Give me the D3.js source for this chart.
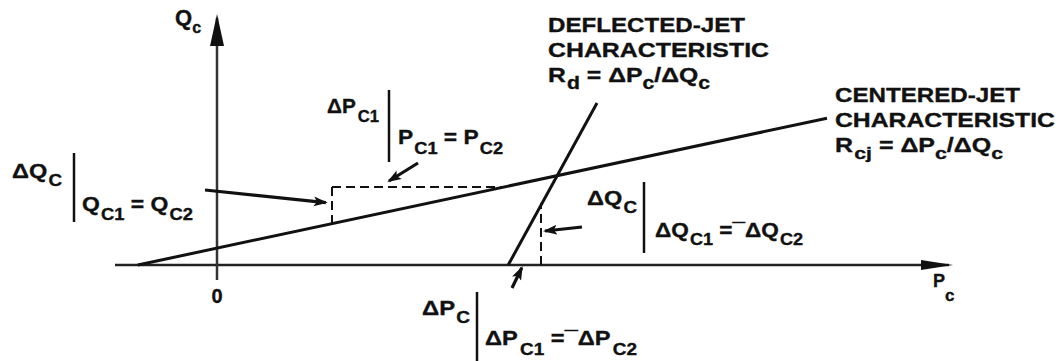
<!DOCTYPE html>
<html>
<head>
<meta charset="utf-8">
<script src="https://cdn.jsdelivr.net/npm/d3@7"></script>
<style>
  body { margin: 0; background: #fff; }
  svg text { font-family: "Liberation Sans", Arial, sans-serif; font-weight: bold; fill: #111; stroke: #111; stroke-width: 0.35px; }
</style>
</head>
<body>
<div id="chart"></div>
<script>
// axis extents (P_c horizontal, Q_c vertical, arbitrary units)
var pAxis = [-2.55, 18.3];
var qAxis = [-0.375, 6.175];

// characteristics [P, Q]
var centeredJet = [[-1.98, 0], [15.25, 3.67]];
var deflectedJet = [[7.28, 0], [9.5, 4.05]];

// dashed construction lines
var dashedLines = [
  [[2.875, 1.95], [7.15, 1.95]],
  [[2.875, 1.95], [2.875, 1.04]],
  [[8.1, 0], [8.1, 1.55]]
];

// pointer arrows (from, to)
var pointers = [
  [[-0.3, 1.875], [2.72, 1.56]],
  [[5.025, 2.55], [4.3, 2.1]],
  [[9.125, 0.95], [8.2, 0.85]],
  [[7.375, -0.575], [7.62, -0.07]]
];

var width = 1062, height = 361;

var x = d3.scaleLinear().domain([0, 10]).range([217, 617]);
var y = d3.scaleLinear().domain([0, 5]).range([265, 65]);

var svg = d3.select("#chart").append("svg")
    .attr("width", width)
    .attr("height", height);

var defs = svg.append("defs");
defs.append("marker")
    .attr("id", "ptr")
    .attr("markerUnits", "userSpaceOnUse")
    .attr("markerWidth", 16).attr("markerHeight", 12)
    .attr("refX", 12).attr("refY", 5)
    .attr("orient", "auto")
  .append("path")
    .attr("d", "M0,0 L14,5 L0,10 L3,5 Z")
    .attr("fill", "#111");
defs.append("marker")
    .attr("id", "axisX")
    .attr("markerUnits", "userSpaceOnUse")
    .attr("markerWidth", 34).attr("markerHeight", 14)
    .attr("refX", 28).attr("refY", 6)
    .attr("orient", "auto")
  .append("path")
    .attr("d", "M0,1 L32,6 L0,11 Z")
    .attr("fill", "#111");
defs.append("marker")
    .attr("id", "axisY")
    .attr("markerUnits", "userSpaceOnUse")
    .attr("markerWidth", 34).attr("markerHeight", 16)
    .attr("refX", 28).attr("refY", 7)
    .attr("orient", "auto")
  .append("path")
    .attr("d", "M0,0 L32,7 L0,14 Z")
    .attr("fill", "#111");

var line = d3.line()
    .x(function(d) { return x(d[0]); })
    .y(function(d) { return y(d[1]); });

// axes
svg.append("path")
    .attr("d", line([[pAxis[0], 0], [pAxis[1], 0]]))
    .attr("stroke", "#222").attr("stroke-width", 2.5)
    .attr("marker-end", "url(#axisX)");
svg.append("path")
    .attr("d", line([[0, qAxis[0]], [0, qAxis[1]]]))
    .attr("stroke", "#333").attr("stroke-width", 2.5)
    .attr("marker-end", "url(#axisY)");

// characteristics
[centeredJet, deflectedJet].forEach(function(d) {
  svg.append("path")
      .attr("d", line(d))
      .attr("fill", "none")
      .attr("stroke", "#111")
      .attr("stroke-width", 3);
});

svg.selectAll(".dash")
    .data(dashedLines)
  .enter().append("path")
    .attr("class", "dash")
    .attr("d", line)
    .attr("stroke", "#111")
    .attr("stroke-width", 2)
    .attr("stroke-dasharray", "9,5");

svg.selectAll(".ptr")
    .data(pointers)
  .enter().append("path")
    .attr("class", "ptr")
    .attr("d", line)
    .attr("stroke", "#111")
    .attr("stroke-width", 3.2)
    .attr("marker-end", "url(#ptr)");

// labels: parts are [text, "sub"|null, dx]
function label(px, py, size, parts, opts) {
  opts = opts || {};
  var t = svg.append("text")
      .attr("x", px).attr("y", py)
      .attr("font-size", size);
  if (opts.anchor) t.attr("text-anchor", opts.anchor);
  if (opts.len) t.attr("textLength", opts.len).attr("lengthAdjust", "spacingAndGlyphs");
  var off = 0;
  parts.forEach(function(p) {
    var target = p[1] === "sub" ? (opts.sub || 8) : 0;
    var s = t.append("tspan").attr("dy", target - off).text(p[0]);
    if (p[1] === "sub") s.attr("font-size", opts.subSize || size * 0.8);
    if (p[2]) s.attr("dx", p[2]);
    off = target;
  });
  return t;
}

label(175, 25, 22, [["Q"], ["c", "sub"]], {sub: 8, subSize: 16});
label(217, 303, 20, [["0"]], {anchor: "middle"});
label(933, 287, 18, [["P"], ["c", "sub"]], {sub: 14, subSize: 17});

// left annotation
label(12, 178, 20, [["ΔQ"], ["C", "sub", 1]], {sub: 8, subSize: 16, len: 50});
label(82, 211, 20, [["Q"], ["C1", "sub", 1], [" = ", null], ["Q"], ["C2", "sub", 1]], {sub: 9, subSize: 16, len: 111});

// top-middle annotation
label(327, 113, 20, [["ΔP"], ["C1", "sub", 2]], {sub: 9, subSize: 16, len: 52});
label(398, 144, 20, [["P"], ["C1", "sub", 1], [" = ", null], ["P"], ["C2", "sub", 1]], {sub: 10, subSize: 16, len: 105});

// right annotation
label(587, 205, 20, [["ΔQ"], ["C", "sub", 1]], {sub: 8, subSize: 16, len: 50});
label(655, 237, 20, [["ΔQ"], ["C1", "sub", 1], [" =¯ΔQ", null], ["C2", "sub", 1]], {sub: 8, subSize: 16, len: 148});

// bottom annotation
label(422, 315, 20, [["ΔP"], ["C", "sub", 1]], {sub: 8, subSize: 16, len: 48});
label(485, 345, 20, [["ΔP"], ["C1", "sub", 2], ["  =¯ΔP", null], ["C2", "sub", 2]], {sub: 10, subSize: 16, len: 152});

// characteristic titles
label(548, 32, 21, [["DEFLECTED-JET"]], {len: 197});
label(548, 57, 21, [["CHARACTERISTIC"]], {len: 221});
label(548, 82, 21, [["R"], ["d", "sub", 1], [" = ΔP"], ["c", "sub"], ["/ΔQ"], ["c", "sub"]], {sub: 7, subSize: 18, len: 162});

label(835, 102, 21, [["CENTERED-JET"]], {len: 185});
label(835, 127, 21, [["CHARACTERISTIC"]], {len: 220});
label(835, 152, 20, [["R"], ["cj", "sub", 1], [" = ΔP"], ["c", "sub"], ["/ΔQ"], ["c", "sub"]], {sub: 7, subSize: 17, len: 168});

// bars of the "evaluated at" notation
var bars = [[74, 153, 222], [389, 90, 162], [644, 182, 253], [477, 292, 361]];
svg.selectAll(".bar")
    .data(bars)
  .enter().append("line")
    .attr("class", "bar")
    .attr("x1", function(d) { return d[0]; })
    .attr("x2", function(d) { return d[0]; })
    .attr("y1", function(d) { return d[1]; })
    .attr("y2", function(d) { return d[2]; })
    .attr("stroke", "#111")
    .attr("stroke-width", 2.5);
</script>
</body>
</html>
